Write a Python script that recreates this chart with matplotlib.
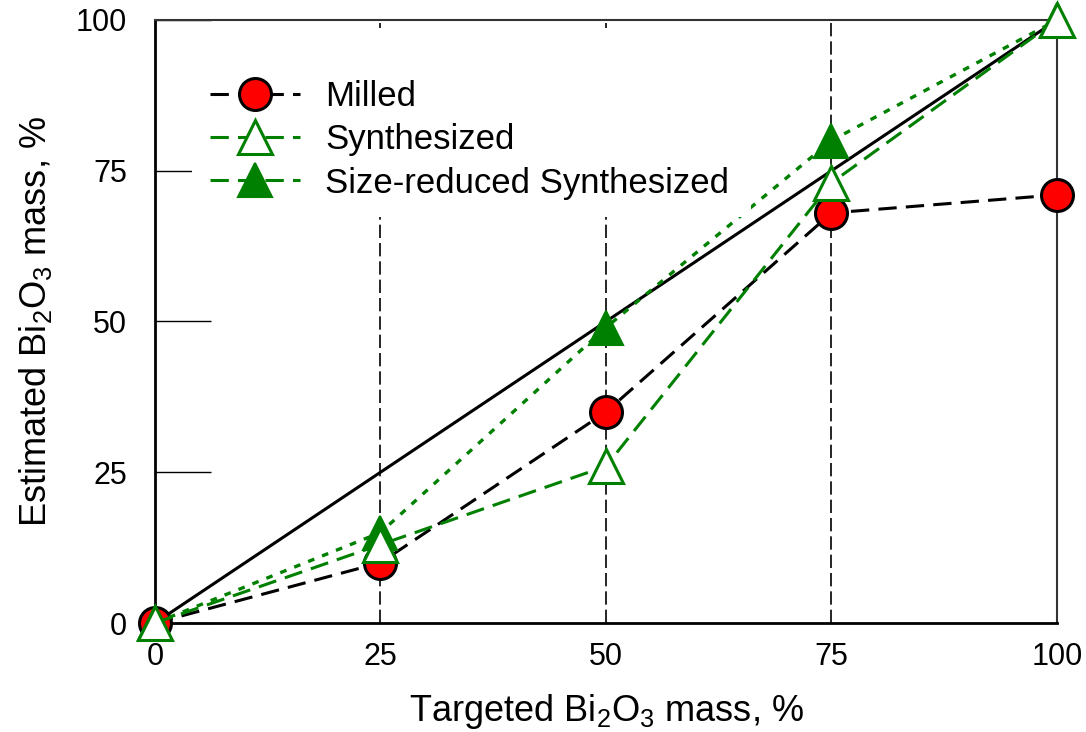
import matplotlib
matplotlib.use("Agg")
import matplotlib.pyplot as plt
from matplotlib.lines import Line2D
from matplotlib.patches import Rectangle

plt.rcParams['font.family'] = ['Liberation Sans', 'DejaVu Sans']
plt.rcParams['mathtext.fontset'] = 'custom'
plt.rcParams['mathtext.rm'] = 'Liberation Sans'
plt.rcParams['mathtext.it'] = 'Liberation Sans'

targeted = [0, 25, 50, 75, 100]
milled = [0, 10, 35, 68, 71]
synthesized = [0, 13, 26, 73, 100]
size_reduced = [0, 15, 49, 80, 100]
ticks = [0, 25, 50, 75, 100]
labels = ['Milled', 'Synthesized', 'Size-reduced Synthesized']
green = '#008000'

fig = plt.figure(figsize=(10.86, 7.32), dpi=100)
ax = fig.add_axes([0.1427, 0.1489, 0.8306, 0.8238])

# vertical guide lines
for xv in [25, 50, 75]:
    ax.axvline(xv, color='black', lw=1.2, ls=(0, (8, 3)), zorder=1)

# 1:1 line
ax.plot([0, 100], [0, 100], color='black', lw=2.2, zorder=2)

dash = (0, (6, 3))
ax.plot(targeted, milled, color='black', lw=2.2, ls=dash,
        marker='o', ms=23, mfc='red', mec='black', mew=2.2,
        clip_on=False, zorder=3)
ax.plot(targeted, size_reduced, color=green, lw=2.4, ls=(0, (2, 2.5)),
        marker='^', ms=25, mfc=green, mec=green, mew=1.5,
        clip_on=False, zorder=4)
ax.plot(targeted, synthesized, color=green, lw=2.2, ls=dash,
        marker='^', ms=24, mfc='white', mec=green, mew=2.2,
        clip_on=False, zorder=5)

ax.set_xlim(0, 100)
ax.set_ylim(0, 100)
ax.set_xticks(ticks)
ax.set_yticks(ticks)
ax.tick_params(axis='y', direction='in', length=40, width=1, labelsize=22, pad=20)
ax.tick_params(axis='x', length=0, labelsize=22, pad=14)
for s in ['left', 'bottom']:
    ax.spines[s].set_linewidth(2)
for s in ['top', 'right']:
    ax.spines[s].set_linewidth(1.5)
    ax.spines[s].set_color('#333333')

ax.set_xlabel('Targeted Bi$_2$O$_3$ mass, %', fontsize=26, labelpad=14)
ax.set_ylabel('Estimated Bi$_2$O$_3$ mass, %', fontsize=26, labelpad=16)

# white box behind the legend
ax.add_patch(Rectangle((0.041, 0.673), 0.62, 0.314, transform=ax.transAxes,
                       facecolor='white', edgecolor='none', zorder=6))

handles = [
    Line2D([], [], color='black', lw=2.2, ls=dash, marker='o', ms=23,
           mfc='red', mec='black', mew=2.2),
    Line2D([], [], color=green, lw=2.2, ls=dash, marker='^', ms=24,
           mfc='white', mec=green, mew=2.2),
    Line2D([], [], color=green, lw=2.2, ls=dash, marker='^', ms=25,
           mfc=green, mec=green, mew=1.5),
]
leg = ax.legend(handles, labels, loc='upper left', bbox_to_anchor=(0.061, 0.901),
                fontsize=25, frameon=False, borderpad=0, borderaxespad=0,
                handlelength=2.6, handletextpad=0.72, labelspacing=0.3)
leg.set_zorder(7)

fig.savefig('out.png', dpi=100)
